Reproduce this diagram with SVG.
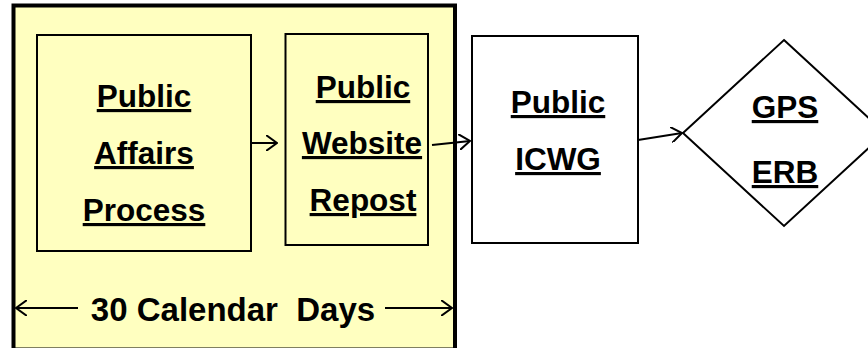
<svg xmlns="http://www.w3.org/2000/svg" width="868" height="348" viewBox="0 0 868 348">
<style>
.lbl{font-family:"Liberation Sans",Arial,sans-serif;font-weight:bold;font-size:31.5px;fill:#000;text-anchor:middle;text-decoration:underline}
.days{font-family:"Liberation Sans",Arial,sans-serif;font-weight:bold;font-size:33px;fill:#000;text-anchor:middle}
.box{fill:#FFFFC0;stroke:#000;stroke-width:2}
.wbox{fill:#FFFFFF;stroke:#000;stroke-width:2}
.conn{fill:none;stroke:#000;stroke-width:2}
</style>
<defs>
<marker id="arr" markerUnits="userSpaceOnUse" viewBox="0 0 12 16" refX="11" refY="8" markerWidth="12" markerHeight="16" orient="auto-start-reverse">
<path d="M0,0 L11,8 L0,16" fill="none" stroke="#000" stroke-width="2"/>
</marker>
</defs>
<rect width="868" height="348" fill="#FFFFFF"/>
<g id="period">
<rect x="13.5" y="5.5" width="441.5" height="344" fill="#FFFFC0" stroke="#000" stroke-width="4"/>
<text class="days" x="233" y="321" xml:space="preserve">30 Calendar  Days</text>
</g>
<g id="public-affairs">
<rect class="box" x="37" y="35" width="214" height="216"/>
<text class="lbl" x="144" y="107">Public</text>
<text class="lbl" x="144" y="164">Affairs</text>
<text class="lbl" x="144" y="221">Process</text>
</g>
<g id="website-repost">
<rect class="box" x="285.5" y="34" width="142.5" height="211"/>
<text class="lbl" x="363" y="98">Public</text>
<text class="lbl" x="362" y="154">Website</text>
<text class="lbl" x="363" y="211">Repost</text>
</g>
<g id="icwg">
<rect class="wbox" x="472" y="36" width="166" height="207"/>
<text class="lbl" x="558" y="113">Public</text>
<text class="lbl" x="558" y="170">ICWG</text>
</g>
<g id="erb">
<polygon points="784,40 885,133 784,226 683,133" fill="#FFFFFF" stroke="#000" stroke-width="2"/>
<text class="lbl" x="785" y="118">GPS</text>
<text class="lbl" x="785" y="183">ERB</text>
</g>
<g id="connectors">
<line class="conn" x1="251" y1="143" x2="277" y2="143" marker-end="url(#arr)"/>
<line class="conn" x1="432" y1="145" x2="470" y2="141" marker-end="url(#arr)"/>
<line class="conn" x1="638" y1="140" x2="682" y2="133" marker-end="url(#arr)"/>
<line class="conn" x1="16" y1="308" x2="78" y2="308" marker-start="url(#arr)"/>
<line class="conn" x1="385" y1="308" x2="452" y2="308" marker-end="url(#arr)"/>
</g>
</svg>
